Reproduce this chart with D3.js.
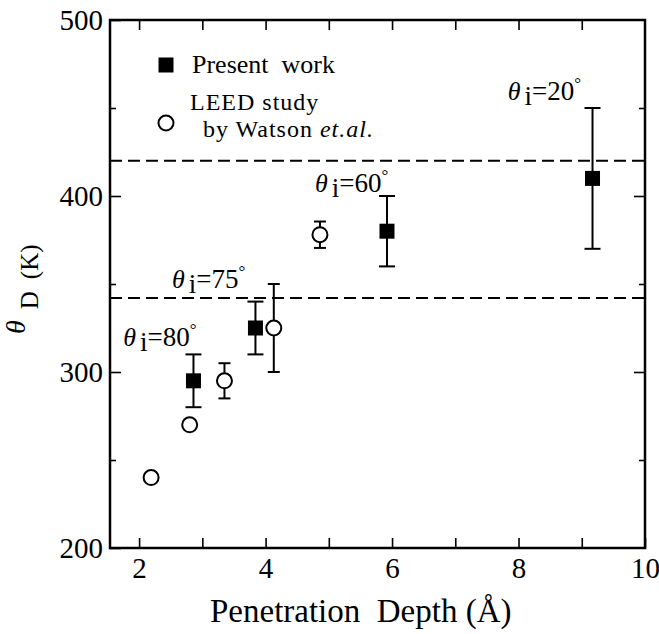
<!DOCTYPE html>
<html>
<head>
<meta charset="utf-8">
<script src="https://cdn.jsdelivr.net/npm/d3@7"></script>
<style>
  body { margin: 0; background: #fff; }
  svg { display: block; }
</style>
</head>
<body>
<svg id="chart" width="659" height="634" font-family="Liberation Serif, DejaVu Serif, serif"></svg>
<script>
// Debye temperature vs. penetration depth
const presentDepth = [2.86, 3.84, 5.92, 9.17];
const presentTheta = [295, 325, 380, 410];
const presentErr   = [15, 15, 20, 40];

const leedDepth = [2.19, 2.80, 3.35, 4.13, 4.86];
const leedTheta = [240, 270, 295, 325, 378];
const leedErr   = [0, 0, 10, 25, 7.5];

// bulk / surface reference temperatures (dashed lines)
const refTheta = [420, 342];

// incidence angles labelled on the plot, with their anchors in data units
const incidenceAngles = [80, 75, 60, 20];
const angleAnchorDepth = [1.75, 2.52, 4.78, 7.83];
const angleAnchorTheta = [315, 347.5, 402, 454.5];

const xTicks = [2, 3, 4, 5, 6, 7, 8, 9, 10];
const xTickLabels = [2, 4, 6, 8, 10];
const yTicks = [200, 250, 300, 350, 400, 450, 500];
const yTickLabels = [200, 300, 400, 500];

const FONT = "Liberation Serif, DejaVu Serif, serif";
const svg = d3.select("#chart");
const L = 110, R = 645, T = 20, B = 548;

const x = d3.scaleLinear().domain([1.54, 10]).range([L, R]);
const y = d3.scaleLinear().domain([200, 500]).range([B, T]);

function styleAxis(g, labelSize) {
  g.attr("font-family", FONT).attr("font-size", labelSize);
  g.select(".domain").remove();
  g.selectAll(".tick line").attr("stroke", "#000").attr("stroke-width", 1.6);
  g.selectAll(".tick text").attr("fill", "#000");
}

// bottom axis
svg.append("g")
  .attr("transform", `translate(0,${B})`)
  .call(d3.axisBottom(x).tickValues(xTicks).tickSizeInner(-10).tickSizeOuter(0)
        .tickPadding(9).tickFormat(d => xTickLabels.includes(d) ? d : ""))
  .call(g => styleAxis(g, 29));

// top axis
svg.append("g")
  .attr("transform", `translate(0,${T})`)
  .call(d3.axisTop(x).tickValues(xTicks.filter(d => d < 10)).tickSizeInner(-10)
        .tickSizeOuter(0).tickFormat(""))
  .call(g => styleAxis(g, 29));

// left axis
svg.append("g")
  .attr("transform", `translate(${L},0)`)
  .call(d3.axisLeft(y).tickValues(yTicks).tickSizeInner(-11).tickSizeOuter(0)
        .tickPadding(7).tickFormat(d => yTickLabels.includes(d) ? d : ""))
  .call(g => styleAxis(g, 29))
  .call(g => g.selectAll(".tick line").attr("x2", d => d % 100 === 0 ? 11 : 6));

// right axis
svg.append("g")
  .attr("transform", `translate(${R},0)`)
  .call(d3.axisRight(y).tickValues(yTicks.filter(d => d > 200 && d < 500))
        .tickSizeInner(-11).tickSizeOuter(0).tickFormat(""))
  .call(g => styleAxis(g, 29))
  .call(g => g.selectAll(".tick line").attr("x2", d => d % 100 === 0 ? -11 : -6));

// frame
svg.append("rect")
  .attr("x", L).attr("y", T).attr("width", R - L).attr("height", B - T)
  .attr("fill", "none").attr("stroke", "#000").attr("stroke-width", 2.5);

// dashed reference lines
svg.append("g").selectAll("line").data(refTheta).join("line")
  .attr("x1", L).attr("x2", R)
  .attr("y1", d => y(d)).attr("y2", d => y(d))
  .attr("stroke", "#000").attr("stroke-width", 2)
  .attr("stroke-dasharray", "12,6");

// error bars
function errorBars(depth, theta, err, capW) {
  const g = svg.append("g").attr("stroke", "#000").attr("stroke-width", 2);
  depth.forEach((d, i) => {
    const e = err[i];
    if (!e) return;
    const cx = x(d), y1 = y(theta[i] + e), y2 = y(theta[i] - e);
    g.append("line").attr("x1", cx).attr("x2", cx).attr("y1", y1).attr("y2", y2);
    g.append("line").attr("x1", cx - capW / 2).attr("x2", cx + capW / 2).attr("y1", y1).attr("y2", y1);
    g.append("line").attr("x1", cx - capW / 2).attr("x2", cx + capW / 2).attr("y1", y2).attr("y2", y2);
  });
}
errorBars(presentDepth, presentTheta, presentErr, 16);
errorBars(leedDepth, leedTheta, leedErr, 12);

// LEED points (open circles)
svg.append("g").selectAll("circle").data(leedDepth).join("circle")
  .attr("cx", d => x(d)).attr("cy", (d, i) => y(leedTheta[i]))
  .attr("r", 7.5).attr("fill", "#fff").attr("stroke", "#000").attr("stroke-width", 2);

// present work (filled squares)
const sq = 15;
svg.append("g").selectAll("rect").data(presentDepth).join("rect")
  .attr("x", d => x(d) - sq / 2).attr("y", (d, i) => y(presentTheta[i]) - sq / 2)
  .attr("width", sq).attr("height", sq).attr("fill", "#000");

// incidence-angle labels
incidenceAngles.forEach((a, i) => {
  const t = svg.append("text")
    .attr("x", x(angleAnchorDepth[i])).attr("y", y(angleAnchorTheta[i]))
    .attr("font-size", 27);
  t.append("tspan").attr("font-style", "italic").attr("font-size", 26).text("θ");
  t.append("tspan").attr("dx", 4).attr("dy", 5).text("i");
  t.append("tspan").attr("dy", -5).text("=" + a);
  t.append("tspan").attr("font-size", 17).attr("dy", -11).text("°");
});

// legend
svg.append("rect").attr("x", 158.5).attr("y", 57.5).attr("width", sq).attr("height", sq).attr("fill", "#000");
svg.append("text").attr("x", 192).attr("y", 73).attr("font-size", 26)
  .style("white-space", "pre").text("Present  work");
svg.append("circle").attr("cx", 166).attr("cy", 123).attr("r", 7.5)
  .attr("fill", "#fff").attr("stroke", "#000").attr("stroke-width", 2);
svg.append("text").attr("x", 190).attr("y", 110).attr("font-size", 24)
  .attr("letter-spacing", 1).text("LEED study");
const w = svg.append("text").attr("x", 203).attr("y", 137).attr("font-size", 24)
  .attr("letter-spacing", 1).style("white-space", "pre");
w.append("tspan").text("by Watson ");
w.append("tspan").attr("font-style", "italic").text("et.al.");

// axis titles
svg.append("text").attr("x", 210).attr("y", 622).attr("font-size", 33)
  .style("white-space", "pre").text("Penetration  Depth (Å)");

const yl = svg.append("text").attr("transform", "translate(25,334) rotate(-90)");
yl.append("tspan").attr("font-style", "italic").attr("font-size", 28).text("θ");
yl.append("tspan").attr("font-size", 25).attr("dx", 11).attr("dy", 13).text("D");
yl.append("tspan").attr("font-size", 25).attr("dx", 12).text("(K)");
</script>
</body>
</html>
